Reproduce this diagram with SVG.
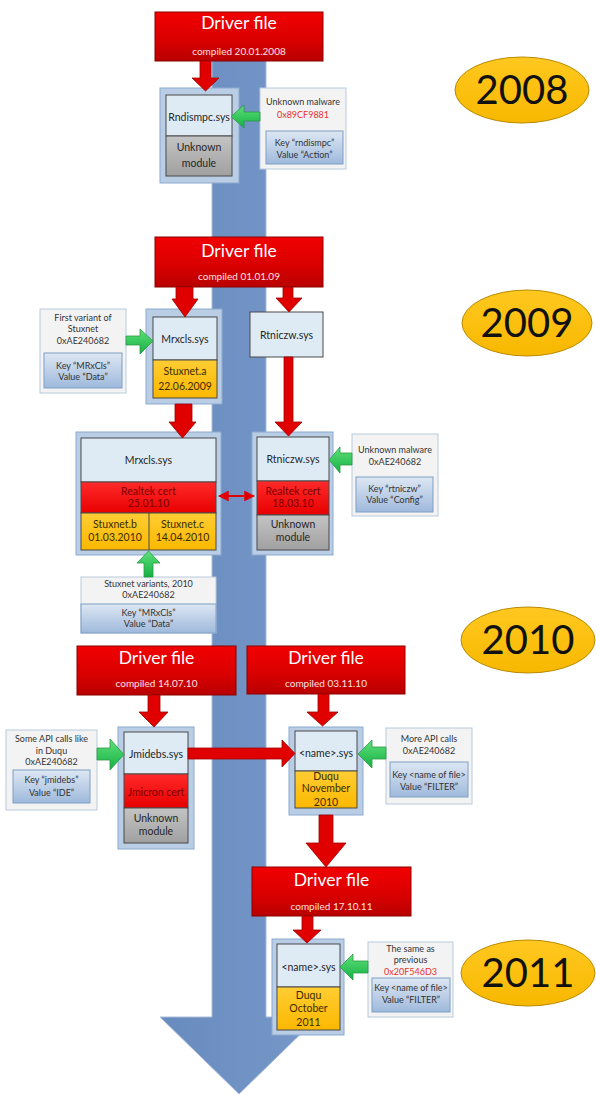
<svg xmlns="http://www.w3.org/2000/svg" width="596" height="1095" viewBox="0 0 596 1095">
<defs>
<linearGradient id="gRed" x1="0" y1="0" x2="0" y2="1"><stop offset="0" stop-color="#f20000"/><stop offset="0.6" stop-color="#d80000"/><stop offset="1" stop-color="#b80000"/></linearGradient>
<linearGradient id="gCert" x1="0" y1="0" x2="0" y2="1"><stop offset="0" stop-color="#ff2a2a"/><stop offset="1" stop-color="#e80000"/></linearGradient>
<linearGradient id="gYel" x1="0" y1="0" x2="0" y2="1"><stop offset="0" stop-color="#ffcd33"/><stop offset="1" stop-color="#fbb800"/></linearGradient>
<linearGradient id="gGray" x1="0" y1="0" x2="0" y2="1"><stop offset="0" stop-color="#c4c4c4"/><stop offset="1" stop-color="#a0a0a0"/></linearGradient>
<linearGradient id="gKey" x1="0" y1="0" x2="0" y2="1"><stop offset="0" stop-color="#dde7f3"/><stop offset="1" stop-color="#9fb9dc"/></linearGradient>
<linearGradient id="gGreen" x1="0" y1="0" x2="0" y2="1"><stop offset="0" stop-color="#5fe07a"/><stop offset="1" stop-color="#14b043"/></linearGradient>
<linearGradient id="gEll" x1="0" y1="0" x2="0" y2="1"><stop offset="0" stop-color="#ffc820"/><stop offset="1" stop-color="#f8b800"/></linearGradient>
<linearGradient id="gBlue" x1="0" y1="0" x2="1" y2="0"><stop offset="0" stop-color="#688bbf"/><stop offset="1" stop-color="#7798c8"/></linearGradient>
<marker id="mr" viewBox="0 0 10 10" refX="9" refY="5" markerWidth="6" markerHeight="6" orient="auto-start-reverse"><path d="M0,0 L10,5 L0,10 z" fill="#e00000"/></marker>
</defs>
<style>
text{font-family:Lato,"Liberation Sans",sans-serif;text-anchor:middle}
.drv{fill:url(#gRed);stroke:#8a0000;stroke-width:1}
.dt{font-size:17.5px;fill:#ffffff}
.ds{font-size:10px;fill:#ffe0e0}
.outer{fill:#b9cde5;stroke:#8eaad0;stroke-width:1}
.top{fill:#deebf5;stroke:#4a4a4a;stroke-width:1}
.gray{fill:url(#gGray);stroke:#4a4a4a;stroke-width:1}
.yel{fill:url(#gYel);stroke:#4a4a4a;stroke-width:1}
.cert{fill:url(#gCert);stroke:#4a4a4a;stroke-width:1}
.info{fill:#f3f3f3;stroke:#b9c9dc;stroke-width:1}
.key{fill:url(#gKey);stroke:#7f9fc6;stroke-width:1}
.nt{font-size:10.5px;fill:#262626}
.yt{font-size:10.5px;fill:#3b2a00}
.ct{font-size:10.5px;fill:#7a0000}
.it{font-size:9px;fill:#333333}
.rt{fill:#e83030}
.ra{fill:#e00000;stroke:#a00000;stroke-width:0.8}
.ga{fill:url(#gGreen);stroke:#2c9a44;stroke-width:0.8}
.ell{fill:url(#gEll);stroke:#b98a00;stroke-width:1}
.yr{font-size:40px;fill:#111111}
</style>

<g id="timeline">
<polygon points="212,14 266,14 266,1017 318,1017 239,1094 160,1017 212,1017" fill="url(#gBlue)" stroke="#a9bcd8" stroke-width="1"/>
</g>

<g id="years">
<g id="y2008"><ellipse class="ell" cx="522" cy="90" rx="67" ry="33"/><text class="yr" x="522" y="104">2008</text></g>
<g id="y2009"><ellipse class="ell" cx="527" cy="323" rx="65" ry="33"/><text class="yr" x="527" y="337">2009</text></g>
<g id="y2010"><ellipse class="ell" cx="528" cy="640" rx="67" ry="33"/><text class="yr" x="528" y="654">2010</text></g>
<g id="y2011"><ellipse class="ell" cx="528" cy="973" rx="67" ry="33"/><text class="yr" x="528" y="987">2011</text></g>
</g>

<g id="driver2008"><rect class="drv" x="155" y="12" width="168" height="49"/><text class="dt" x="239" y="29">Driver file</text><text class="ds" x="239" y="54.5">compiled 20.01.2008</text></g>
<g id="driver2009"><rect class="drv" x="155" y="237" width="168" height="50"/><text class="dt" x="239" y="257">Driver file</text><text class="ds" x="239" y="279.5">compiled 01.01.09</text></g>
<g id="driver2010a"><rect class="drv" x="77" y="646" width="159" height="49"/><text class="dt" x="156.5" y="664">Driver file</text><text class="ds" x="156.5" y="686.5">compiled 14.07.10</text></g>
<g id="driver2010b"><rect class="drv" x="247" y="646" width="158" height="48"/><text class="dt" x="326" y="664">Driver file</text><text class="ds" x="326" y="686.5">compiled 03.11.10</text></g>
<g id="driver2011"><rect class="drv" x="252" y="867" width="159" height="49"/><text class="dt" x="331.5" y="886">Driver file</text><text class="ds" x="331.5" y="909.5">compiled 17.10.11</text></g>

<g id="rndismpc">
<rect class="outer" x="160" y="88" width="79" height="95"/>
<rect class="top" x="166" y="95" width="66" height="41"/>
<rect class="gray" x="166" y="136" width="66" height="40"/>
<text class="nt" x="199" y="121">Rndismpc.sys</text>
<text class="nt" x="199" y="151">Unknown</text>
<text class="nt" x="199" y="167">module</text>
</g>

<g id="info2008">
<rect class="info" x="260" y="88" width="86" height="81"/>
<text class="it" x="303" y="105">Unknown malware</text>
<text class="it rt" x="303" y="118">0x89CF9881</text>
<rect class="key" x="266" y="131" width="77" height="33"/>
<text class="it" x="304.5" y="146">Key “rndismpc”</text>
<text class="it" x="304.5" y="158">Value “Action”</text>
</g>

<g id="mrxcls2009">
<rect class="outer" x="146" y="309" width="76" height="95"/>
<rect class="top" x="153" y="317" width="64" height="43"/>
<rect class="yel" x="153" y="360" width="64" height="38"/>
<text class="nt" x="185" y="343">Mrxcls.sys</text>
<text class="yt" x="185" y="375">Stuxnet.a</text>
<text class="yt" x="185" y="390">22.06.2009</text>
</g>

<g id="info2009a">
<rect class="info" x="40" y="309" width="86" height="84"/>
<text class="it" x="83" y="321">First variant of</text>
<text class="it" x="83" y="332">Stuxnet</text>
<text class="it" x="83" y="344">0xAE240682</text>
<rect class="key" x="44" y="353" width="78" height="35"/>
<text class="it" x="83" y="369">Key “MRxCls”</text>
<text class="it" x="83" y="380">Value “Data”</text>
</g>

<g id="rtniczw2009">
<rect class="top" x="250" y="312" width="73" height="45"/>
<text class="nt" x="286.5" y="339">Rtniczw.sys</text>
</g>

<g id="mrxcls2010">
<rect class="outer" x="76" y="432" width="145" height="123"/>
<rect class="top" x="81" y="438" width="135" height="44"/>
<rect class="cert" x="81" y="482" width="135" height="31"/>
<rect class="yel" x="81" y="513" width="135" height="37"/>
<line x1="149" y1="513" x2="149" y2="550" stroke="#4a4a4a" stroke-width="1"/>
<text class="nt" x="148.5" y="464">Mrxcls.sys</text>
<text class="ct" x="148.5" y="495">Realtek cert</text>
<text class="ct" x="148.5" y="507">25.01.10</text>
<text class="yt" x="115" y="528">Stuxnet.b</text>
<text class="yt" x="115" y="541">01.03.2010</text>
<text class="yt" x="182.5" y="528">Stuxnet.c</text>
<text class="yt" x="182.5" y="541">14.04.2010</text>
</g>

<g id="rtniczw2010">
<rect class="outer" x="252" y="432" width="81" height="123"/>
<rect class="top" x="257" y="437" width="72" height="44"/>
<rect class="cert" x="257" y="481" width="72" height="34"/>
<rect class="gray" x="257" y="515" width="72" height="35"/>
<text class="nt" x="293" y="463">Rtniczw.sys</text>
<text class="ct" x="293" y="495">Realtek cert</text>
<text class="ct" x="293" y="507">18.03.10</text>
<text class="nt" x="293" y="528">Unknown</text>
<text class="nt" x="293" y="541">module</text>
</g>

<g id="info2009b">
<rect class="info" x="352" y="434" width="86" height="82"/>
<text class="it" x="395" y="453">Unknown malware</text>
<text class="it" x="395" y="465">0xAE240682</text>
<rect class="key" x="356" y="477" width="77" height="35"/>
<text class="it" x="394.5" y="492">Key “rtniczw”</text>
<text class="it" x="394.5" y="503">Value “Config”</text>
</g>

<g id="info2010a">
<rect class="info" x="81" y="577" width="135" height="56"/>
<rect class="key" x="81" y="604" width="135" height="29"/>
<text class="it" x="148.5" y="587">Stuxnet variants, 2010</text>
<text class="it" x="148.5" y="598">0xAE240682</text>
<text class="it" x="148.5" y="616">Key “MRxCls”</text>
<text class="it" x="148.5" y="627">Value “Data”</text>
</g>

<g id="jmidebs">
<rect class="outer" x="118" y="727" width="76" height="122"/>
<rect class="top" x="124" y="732" width="64" height="42"/>
<rect class="cert" x="124" y="774" width="64" height="34"/>
<rect class="gray" x="124" y="808" width="64" height="35"/>
<text class="nt" x="156" y="758">Jmidebs.sys</text>
<text class="ct" x="156" y="796">Jmicron cert</text>
<text class="nt" x="156" y="822">Unknown</text>
<text class="nt" x="156" y="835">module</text>
</g>

<g id="info2010b">
<rect class="info" x="6" y="730" width="91" height="80"/>
<text class="it" x="51.5" y="742">Some API calls like</text>
<text class="it" x="51.5" y="754">in Duqu</text>
<text class="it" x="51.5" y="765">0xAE240682</text>
<rect class="key" x="13" y="770" width="77" height="33"/>
<text class="it" x="51.5" y="783">Key “jmidebs”</text>
<text class="it" x="51.5" y="796">Value “IDE”</text>
</g>

<g id="name2010">
<rect class="outer" x="289" y="727" width="74" height="88"/>
<rect class="top" x="295" y="731" width="62" height="40"/>
<rect class="yel" x="295" y="771" width="62" height="37"/>
<text class="nt" x="326" y="757">&lt;name&gt;.sys</text>
<text class="yt" x="326" y="780">Duqu</text>
<text class="yt" x="326" y="792">November</text>
<text class="yt" x="326" y="806">2010</text>
</g>

<g id="info2010c">
<rect class="info" x="386" y="728" width="86" height="76"/>
<text class="it" x="429" y="742">More API calls</text>
<text class="it" x="429" y="754">0xAE240682</text>
<rect class="key" x="390" y="762" width="78" height="35"/>
<text class="it" x="429" y="778">Key &lt;name of file&gt;</text>
<text class="it" x="429" y="790">Value “FILTER”</text>
</g>

<g id="name2011">
<rect class="outer" x="272" y="939" width="72" height="96"/>
<rect class="top" x="277" y="944" width="63" height="43"/>
<rect class="yel" x="277" y="987" width="63" height="43"/>
<text class="nt" x="308.5" y="971">&lt;name&gt;.sys</text>
<text class="yt" x="308.5" y="999">Duqu</text>
<text class="yt" x="308.5" y="1012">October</text>
<text class="yt" x="308.5" y="1026">2011</text>
</g>

<g id="info2011">
<rect class="info" x="368" y="942" width="85" height="75"/>
<text class="it" x="410.5" y="952">The same as</text>
<text class="it" x="410.5" y="963">previous</text>
<text class="it rt" x="410.5" y="975">0x20F546D3</text>
<rect class="key" x="372" y="978" width="78" height="34"/>
<text class="it" x="411" y="991">Key &lt;name of file&gt;</text>
<text class="it" x="411" y="1003">Value “FILTER”</text>
</g>

<g id="connectors">
<polygon class="ra" points="200,61 211,61 211,78 219,78 205.5,91 192,78 200,78"/>
<polygon class="ra" points="176,287 193,287 193,299 198,299 185,317 172,299 176,299"/>
<polygon class="ra" points="283,287 293,287 293,298 302,298 289,312 276,298 283,298"/>
<polygon class="ra" points="175,404 192,404 192,422 196,422 182.5,438 169,422 175,422"/>
<polygon class="ra" points="284,357 293,357 293,422 302,422 288.5,436 275,422 284,422"/>
<polygon class="ra" points="148,695 160,695 160,712 168,712 154,727 139,712 148,712"/>
<polygon class="ra" points="318,694 329,694 329,712 338,712 322.5,726 307,712 318,712"/>
<polygon class="ra" points="188,748 282,748 282,740 295,753.5 282,767 282,759 188,759"/>
<polygon class="ra" points="319,815 333,815 333,843 346,843 326,867 306,843 319,843"/>
<polygon class="ra" points="302,916 313,916 313,930 321,930 307,943 293,930 302,930"/>
<line x1="219" y1="496" x2="254" y2="496" stroke="#e00000" stroke-width="1.8" marker-start="url(#mr)" marker-end="url(#mr)"/>
<polygon class="ga" points="260,112 244,112 244,105 231,116.5 244,128 244,121 260,121"/>
<polygon class="ga" points="126,336 140,336 140,329 153,341 140,354 140,345 126,345"/>
<polygon class="ga" points="352,453 340,453 340,447 329,460 340,473 340,465 352,465"/>
<polygon class="ga" points="144,577 144,563 137,563 148.5,551 160,563 153,563 153,577"/>
<polygon class="ga" points="97,748 110,748 110,739 124,754.5 110,770 110,760 97,760"/>
<polygon class="ga" points="386,747 372,747 372,740 358,754 372,768 372,759 386,759"/>
<polygon class="ga" points="368,961 353,961 353,954 340,967 353,980 353,973 368,973"/>
</g>
</svg>
